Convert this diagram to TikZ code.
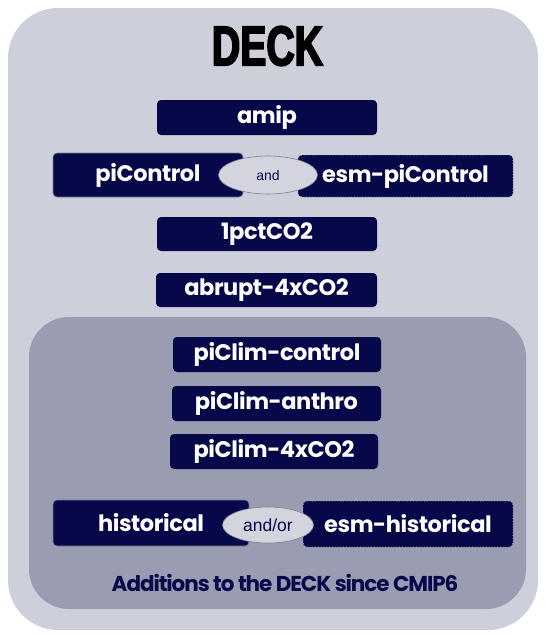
\documentclass[tikz,border=0pt]{standalone}
\usepackage{fontspec}
\setmainfont{Poppins}
\newfontfamily\boxfont{Poppins}[LetterSpace=-1.8]
\newfontfamily\addfont{Poppins}[LetterSpace=-5]
\newfontfamily\andfont{Liberation Sans}
\newfontfamily\deckfont{Liberation Sans Bold}[FakeStretch=0.7,FakeBold=3]
\usetikzlibrary{shapes.geometric}
\definecolor{outerbg}{HTML}{CDCFDB}
\definecolor{innerbg}{HTML}{9A9CB2}
\definecolor{navy}{HTML}{06084A}
\definecolor{ellfill}{HTML}{D3D4DE}
\definecolor{ellline}{HTML}{7E8092}
\definecolor{dotline}{HTML}{A8AAD0}
\tikzset{
  runbox/.style={fill=navy, rounded corners=4pt, inner sep=0pt, text=white,
    font=\boxfont\bfseries\fontsize{22.5}{22.5}\selectfont},
  solidbox/.style={runbox, draw=ellline, line width=0.6pt},
  dotbox/.style={runbox, draw=dotline, dotted, line width=0.8pt},
  andell/.style={ellipse, fill=ellfill, draw=ellline, line width=0.6pt, inner sep=0pt,
    text=navy, font=\andfont\fontsize{14}{14}\selectfont}
}
\begin{document}
\begin{tikzpicture}[x=1pt,y=-1pt]
\useasboundingbox (0,0) rectangle (546,635);
\fill[white] (0,0) rectangle (546,635);
\fill[outerbg, rounded corners=50pt] (8,8) rectangle (538,630);
\fill[innerbg, rounded corners=40pt] (29,317) rectangle (526,609);
\node[font=\deckfont\fontsize{56}{56}\selectfont, text=black] (deck) at (267.5,46) {DECK};
\node[runbox, minimum width=220pt, minimum height=35pt] (amip) at (267,117.5) {amip};
\node[solidbox, minimum width=190pt, minimum height=44pt] (pic) at (148,175) {piControl};
\node[dotbox, minimum width=215pt, minimum height=42pt] (esmpic) at (405.5,176) {esm-piControl};
\node[andell, minimum width=99pt, minimum height=38pt] (and) at (268,175) {and};
\node[runbox, minimum width=220pt, minimum height=34pt] (onepct) at (267,234) {1pctCO2};
\node[runbox, minimum width=221pt, minimum height=34pt] (abrupt) at (266.5,290) {abrupt-4xCO2};
\node[runbox, minimum width=208pt, minimum height=35pt] (pcc) at (277,354.5) {piClim-control};
\node[runbox, minimum width=209pt, minimum height=35pt] (pca) at (276.5,403.5) {piClim-anthro};
\node[runbox, minimum width=208pt, minimum height=35pt] (pc4) at (274,451.5) {piClim-4xCO2};
\node[solidbox, minimum width=196pt, minimum height=46pt] (hist) at (151,523) {historical};
\node[dotbox, minimum width=210pt, minimum height=46pt] (esmhist) at (408,524) {esm-historical};
\node[andell, minimum width=91pt, minimum height=36pt, font=\andfont\fontsize{17.5}{17.5}\selectfont] (andor) at (268,525) {and/or};
\node[text=navy, font=\addfont\bfseries\fontsize{21.5}{21.5}\selectfont] (add) at (285,583) {Additions to the DECK since CMIP6};
\end{tikzpicture}
\end{document}
